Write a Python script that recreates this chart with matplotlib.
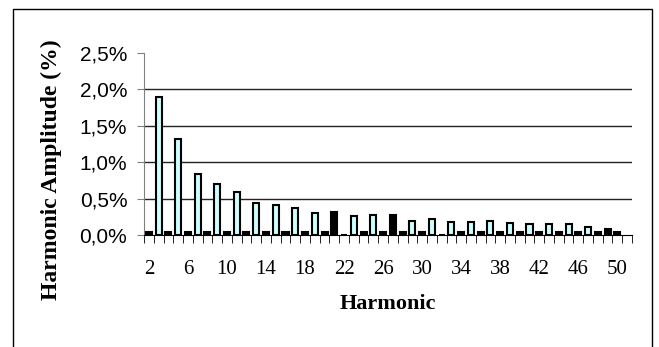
import numpy as np
import matplotlib.pyplot as plt
from matplotlib.patches import Rectangle
from matplotlib.ticker import FuncFormatter

# harmonic order and amplitude (% of fundamental)
harmonics = list(range(2, 51))
odd_amp = [1.90, 1.32, 0.84, 0.70, 0.59, 0.44, 0.41, 0.37, 0.30, 0.31, 0.26, 0.27,
           0.27, 0.19, 0.22, 0.18, 0.18, 0.19, 0.16, 0.15, 0.15, 0.15, 0.11, 0.08]
even_amp = [0.04, 0.04, 0.04, 0.04, 0.04, 0.04, 0.04, 0.04, 0.04, 0.04, 0.00, 0.04,
            0.04, 0.04, 0.04, 0.00, 0.04, 0.04, 0.04, 0.04, 0.04, 0.04, 0.04, 0.04, 0.04]
dark_odd = [21, 27, 49]
tick_labels = [str(h) for h in range(2, 51, 4)]

amp = []
for h in harmonics:
    if h % 2 == 0:
        amp.append(even_amp[(h - 2) // 2])
    else:
        amp.append(odd_amp[(h - 3) // 2])
colors = ['black' if (h % 2 == 0 or h in dark_odd) else '#ccffff' for h in harmonics]

fig = plt.figure(figsize=(6.59, 3.47), dpi=100)
ax = fig.add_axes([0.2185, 0.3228, 0.7405, 0.5245])

x = np.arange(len(harmonics))
ax.bar(x, amp, width=0.62, color=colors, edgecolor='black', linewidth=1.5, zorder=3)

for g in [0.5, 1.0, 1.5, 2.0]:
    ax.axhline(g, color='#222222', lw=1, zorder=1)

ax.set_xlim(-0.5, len(harmonics) + 0.5)
ax.set_ylim(0, 2.5)
ax.set_yticks([0, 0.5, 1.0, 1.5, 2.0, 2.5])
ax.yaxis.set_major_formatter(FuncFormatter(lambda v, p: f"{v:.1f}%".replace('.', ',')))
ax.tick_params(axis='y', labelsize=15, length=5, color='#808080', pad=7)
for t in ax.get_yticklabels():
    t.set_fontfamily('Liberation Sans')

# category boundaries as minor ticks, labels every fourth harmonic
ax.set_xticks(np.arange(-0.5, len(harmonics) + 1, 1), minor=True)
ax.set_xticks(np.arange(0, len(harmonics), 4))
ax.set_xticklabels(tick_labels, fontfamily='Liberation Serif', fontsize=15)
ax.tick_params(axis='x', which='major', length=0, pad=18)
ax.tick_params(axis='x', which='minor', length=6, color='black')

ax.spines['top'].set_visible(False)
ax.spines['right'].set_visible(False)
ax.spines['left'].set_color('#808080')
ax.spines['bottom'].set_color('black')
ax.spines['bottom'].set_zorder(4)

ax.set_ylabel('Harmonic Amplitude (%)', fontfamily='Liberation Serif', fontweight='bold',
              fontsize=17)
ax.yaxis.set_label_coords(-0.167, 0.36)
ax.set_xlabel('Harmonic', fontfamily='Liberation Serif', fontweight='bold',
              fontsize=16, labelpad=11)

fig.patches.append(Rectangle((13 / 659, -0.1), 639 / 659, 1.074, transform=fig.transFigure,
                             fill=False, edgecolor='black', lw=1))

fig.savefig('out.png', dpi=100)
